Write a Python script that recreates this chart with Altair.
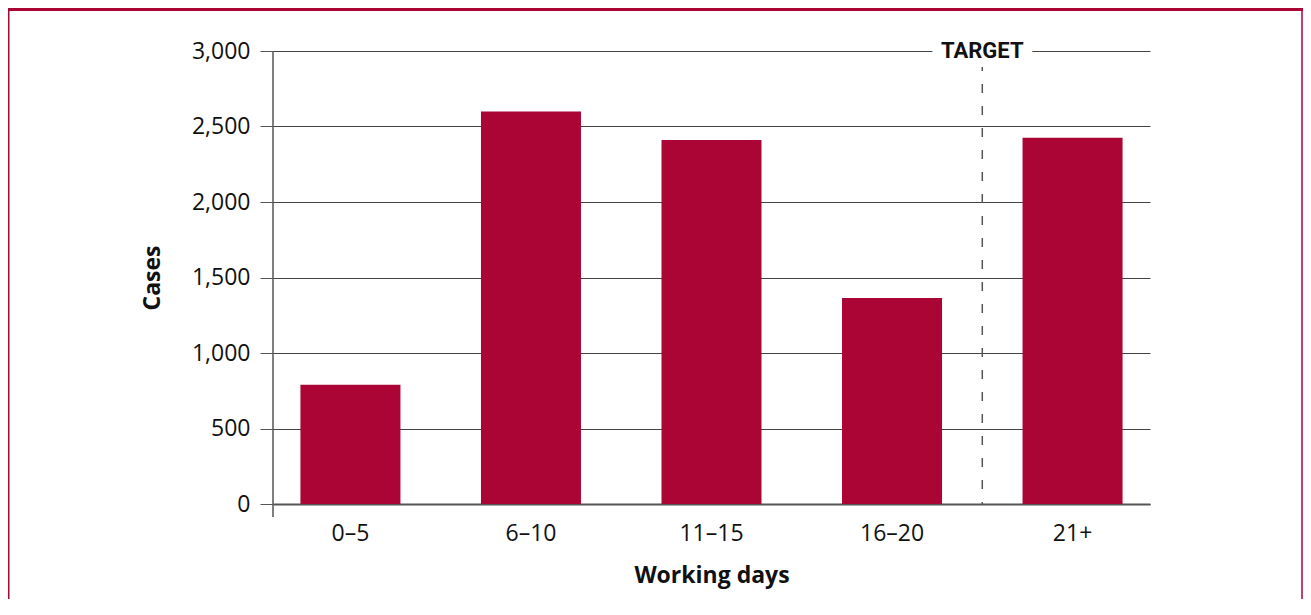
import altair as alt
import pandas as pd

categories = ["0–5", "6–10", "11–15", "16–20", "21+"]
cases = [790, 2600, 2410, 1365, 2425]
y_ticks = [0, 500, 1000, 1500, 2000, 2500, 3000]
target_cat = "21+"
target_label = "TARGET"
target_top = [3000]

RED = "#AB0535"
GRAY = "#555555"
GRID = "#444444"
PI = 0.446
PO = 0.152
W, H = 877, 453
STEP = W / (len(categories) - PI + 2 * PO)
GAP_OFF = -PI * STEP / 2  # move from band start to middle of the gap
PAD = {"left": 265, "top": 43, "right": 153, "bottom": 95}

df = pd.DataFrame({"cat": categories, "cases": cases})
target_df = pd.DataFrame({"cat": [target_cat], "label": [target_label], "cases": target_top})

xscale = alt.Scale(domain=categories, paddingInner=PI, paddingOuter=PO)
yscale = alt.Scale(domain=[0, 3000], nice=False)

x_axis = alt.Axis(
    title="Working days", labelAngle=0, ticks=False, tickSize=0,
    labelPadding=36, labelBaseline="alphabetic", labelFontSize=23,
    labelFont="Open Sans", labelColor="#111111",
    titleFont="Open Sans", titleFontSize=23, titleFontWeight="bold",
    titleColor="#111111", titleY=78, titleBaseline="alphabetic",
    domainColor=GRAY, domainWidth=2, grid=False,
)
y_axis = alt.Axis(
    title="Cases", values=y_ticks, format=",.0f", domain=False,
    labelFont="Open Sans", labelFontSize=23, labelColor="#111111",
    labelPadding=10, tickSize=13, tickColor=GRAY, tickWidth=1,
    grid=True, gridColor=GRID, gridWidth=1,
    titleFont="Open Sans", titleFontSize=23, titleFontWeight="bold",
    titleColor="#111111", titleX=-121, titleY=H / 2, titleAngle=270,
    titleAlign="center", titleBaseline="middle",
)

x_main = alt.X("cat:N", scale=xscale, sort=categories, axis=x_axis, title="Working days")
y_main = alt.Y("cases:Q", scale=yscale, axis=y_axis, title="Cases")

bars = alt.Chart(df).mark_bar(color=RED).encode(x=x_main, y=y_main)

yline = alt.Chart(df.head(1)).mark_rule(color=GRAY, strokeWidth=1.5).encode(
    x=alt.value(0), y=alt.value(0), y2=alt.value(H + 13)
)

x_target = alt.X("cat:N", scale=xscale, sort=categories, bandPosition=0,
                 axis=x_axis, title="Working days")

dashed = alt.Chart(target_df).mark_rule(
    color=GRAY, strokeDash=[9, 13], strokeWidth=1.5, xOffset=GAP_OFF
).encode(
    x=x_target,
    y=alt.value(11),
    y2=alt.value(H),
)

TFONT = "Roboto"
halo = alt.Chart(target_df).mark_text(
    font=TFONT, fontSize=22, fontWeight="bold", fill="white", stroke="white",
    strokeWidth=18, baseline="middle", align="center", xOffset=GAP_OFF,
).encode(x=x_target, y=y_main, text="label:N")

label = alt.Chart(target_df).mark_text(
    font=TFONT, fontSize=22, fontWeight="bold", color="#111111",
    baseline="middle", align="center", xOffset=GAP_OFF,
).encode(x=x_target, y=y_main, text="label:N")

canvas_w = PAD["left"] + W + PAD["right"]
canvas_h = PAD["top"] + H + PAD["bottom"]
top_band = alt.Chart(df.head(1)).mark_rect(color=RED).encode(
    x=alt.value(-PAD["left"]), x2=alt.value(canvas_w - PAD["left"]),
    y=alt.value(-PAD["top"]), y2=alt.value(-PAD["top"] + 3),
)
left_border = alt.Chart(df.head(1)).mark_rule(color=RED, strokeWidth=1.5).encode(
    x=alt.value(-PAD["left"] + 0.75), y=alt.value(-PAD["top"]),
    y2=alt.value(canvas_h - PAD["top"]),
)
right_border = alt.Chart(df.head(1)).mark_rule(color=RED, strokeWidth=1.5).encode(
    x=alt.value(canvas_w - PAD["left"] - 1), y=alt.value(-PAD["top"]),
    y2=alt.value(canvas_h - PAD["top"]),
)

chart = alt.layer(
    bars, yline, dashed, halo, label, top_band, left_border, right_border
).properties(
    width=W, height=H, padding=PAD,
    autosize=alt.AutoSizeParams(type="none"),
    background="white",
).configure_view(stroke=None)

chart.save("out.html", embed_options={"renderer": "svg", "actions": False})
